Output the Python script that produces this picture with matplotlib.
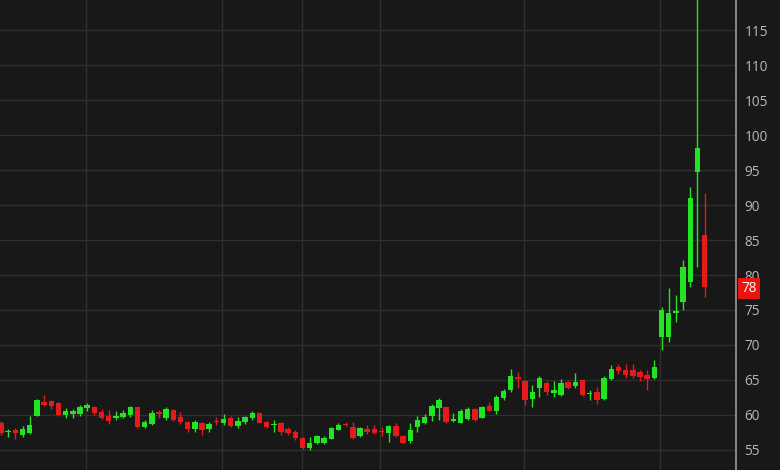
import numpy as np
import matplotlib.pyplot as plt

# OHLC, one entry per candle
opens = [58.9, 57.5, 57.9, 57.1, 57.4, 59.9, 61.9, 62.0, 61.7, 60.0,
         60.1, 60.1, 61.0, 61.1, 60.4, 59.9, 59.6, 59.7, 60.0, 61.1,
         58.3, 58.7, 60.4, 59.6, 60.7, 59.7, 59.0, 58.0, 58.9, 58.0,
         59.2, 58.9, 59.6, 58.4, 59.0, 59.6, 60.3, 59.0, 58.5, 58.9,
         58.0, 57.6, 56.7, 55.3, 56.0, 56.0, 56.6, 57.9, 58.7, 58.3,
         57.0, 58.0, 58.0, 57.7, 57.4, 58.4, 57.0, 56.3, 58.3, 58.9,
         59.9, 61.0, 61.1, 59.1, 58.9, 59.4, 60.9, 59.6, 61.3, 60.6,
         62.4, 63.6, 65.4, 64.9, 62.3, 63.9, 64.6, 63.1, 62.9, 64.7,
         64.1, 65.0, 63.0, 63.3, 62.3, 65.1, 66.9, 66.4, 66.4, 66.1,
         65.7, 65.3, 71.1, 71.1, 74.6, 76.1, 79.0, 94.7, 85.7]
highs = [59.1, 58.0, 58.1, 58.4, 59.9, 62.3, 62.9, 62.1, 61.8, 61.0,
         60.9, 61.4, 61.7, 61.3, 60.9, 60.7, 60.6, 60.7, 61.3, 61.2,
         59.3, 60.7, 60.7, 61.1, 60.8, 60.4, 59.1, 59.3, 59.0, 59.0,
         59.7, 60.1, 59.8, 59.7, 59.9, 60.6, 60.4, 59.1, 59.3, 59.0,
         58.3, 57.9, 56.8, 56.9, 57.2, 57.0, 58.3, 58.8, 59.0, 59.0,
         58.3, 58.6, 58.6, 58.3, 58.6, 58.9, 57.2, 58.9, 59.9, 60.1,
         61.5, 62.4, 61.2, 60.3, 60.8, 61.1, 61.0, 61.3, 61.8, 62.8,
         63.7, 66.5, 66.1, 65.0, 64.3, 65.6, 64.8, 64.9, 65.1, 64.9,
         66.0, 65.1, 63.6, 64.0, 65.5, 67.1, 67.3, 67.3, 67.3, 66.4,
         66.4, 67.9, 75.4, 78.1, 77.1, 82.1, 92.6, 125.0, 91.7]
lows = [57.2, 56.9, 56.6, 56.9, 57.3, 59.8, 61.3, 60.9, 59.9, 59.6,
        59.6, 59.9, 60.6, 60.0, 59.4, 58.7, 59.3, 59.5, 59.7, 58.2,
        58.1, 58.6, 59.6, 59.3, 59.2, 58.7, 57.6, 57.6, 57.1, 57.6,
        58.6, 58.6, 58.3, 58.1, 58.7, 59.3, 58.8, 58.2, 57.6, 57.1,
        57.1, 56.4, 55.1, 55.0, 55.9, 55.9, 56.5, 57.8, 58.4, 56.6,
        56.9, 57.3, 57.3, 57.0, 56.2, 56.9, 55.8, 56.0, 57.5, 58.7,
        59.1, 59.3, 58.9, 59.0, 58.8, 59.3, 59.2, 59.5, 60.5, 60.2,
        62.1, 63.3, 63.9, 61.4, 61.2, 62.6, 62.9, 62.6, 62.7, 63.7,
        63.9, 62.7, 62.2, 61.6, 62.2, 65.0, 65.9, 65.3, 65.3, 64.9,
        63.6, 65.1, 69.3, 70.4, 73.3, 75.0, 78.3, 81.1, 76.9]
closes = [57.4, 57.7, 57.4, 58.0, 58.6, 62.1, 61.4, 61.3, 60.0, 60.6,
          60.6, 61.1, 61.4, 60.3, 59.6, 59.1, 59.8, 60.3, 61.1, 58.3,
          59.0, 60.3, 60.2, 60.9, 59.3, 59.0, 58.0, 59.0, 57.9, 58.7,
          59.0, 59.4, 58.4, 59.1, 59.7, 60.3, 58.9, 58.3, 58.7, 57.6,
          57.4, 56.7, 55.3, 56.0, 57.0, 56.7, 58.1, 58.6, 58.5, 56.7,
          58.1, 57.6, 57.4, 57.5, 58.4, 57.0, 56.0, 57.9, 59.3, 59.7,
          61.3, 62.1, 59.0, 59.4, 60.6, 60.9, 59.3, 61.1, 60.6, 62.6,
          63.4, 65.6, 65.1, 62.1, 63.3, 65.3, 63.3, 63.6, 64.6, 63.9,
          64.7, 62.9, 63.2, 62.1, 65.3, 66.6, 66.3, 65.7, 65.6, 65.4,
          65.1, 66.9, 75.0, 74.6, 74.9, 81.1, 91.0, 98.1, 78.3]

# date separators (vertical grid), in candle units
vgrid = [11.8, 30.8, 41.9, 52.8, 72.8, 91.8]
yticks = [55, 60, 65, 70, 75, 80, 85, 90, 95, 100, 105, 110, 115]

bg = '#181818'
up_col = '#22e422'
down_col = '#e51a1a'

o = np.array(opens)
h = np.array(highs)
l = np.array(lows)
c = np.array(closes)
x = np.arange(len(o))
cols = np.where(c >= o, up_col, down_col)

fig = plt.figure(figsize=(7.8, 4.7), dpi=100, facecolor=bg)
ax = fig.add_axes([0, 0, 736 / 780, 1])
ax.set_facecolor(bg)

# wicks then bodies
ax.vlines(x, l, h, colors=cols, linewidth=1, zorder=2)
body_bottom = np.minimum(o, c)
body_height = np.maximum(np.abs(c - o), 0.2)
ax.bar(x, body_height, bottom=body_bottom, width=0.76, color=cols,
       linewidth=0, zorder=3)

ax.set_xlim(-0.14, 102.37)
ax.set_ylim(52.14, 119.29)

ax.set_xticks(vgrid)
ax.set_xticklabels([])
ax.set_yticks(yticks)
ax.yaxis.tick_right()
ax.tick_params(axis='x', length=0)
ax.tick_params(axis='y', length=0, pad=6, labelcolor='#b8b8b8',
               labelsize=9.8)
for lab in ax.get_yticklabels():
    lab.set_family('Open Sans')

ax.grid(True, color='#2f2f2f', linewidth=1)
ax.set_axisbelow(True)

for side in ['left', 'top', 'bottom']:
    ax.spines[side].set_visible(False)
ax.spines['right'].set_color('#9a9a9a')
ax.spines['right'].set_linewidth(1.2)

# last price tag
ax.annotate(f"{closes[-1]:.0f}", xy=(1, closes[-1]),
            xycoords=ax.get_yaxis_transform(),
            xytext=(4, -1), textcoords='offset points',
            ha='left', va='center', color='white', fontsize=9.8,
            family='Open Sans', annotation_clip=False,
            bbox=dict(boxstyle='square,pad=0.24', facecolor='#e8140f',
                      edgecolor='none'))

plt.savefig('out.png', dpi=100, facecolor=bg)
